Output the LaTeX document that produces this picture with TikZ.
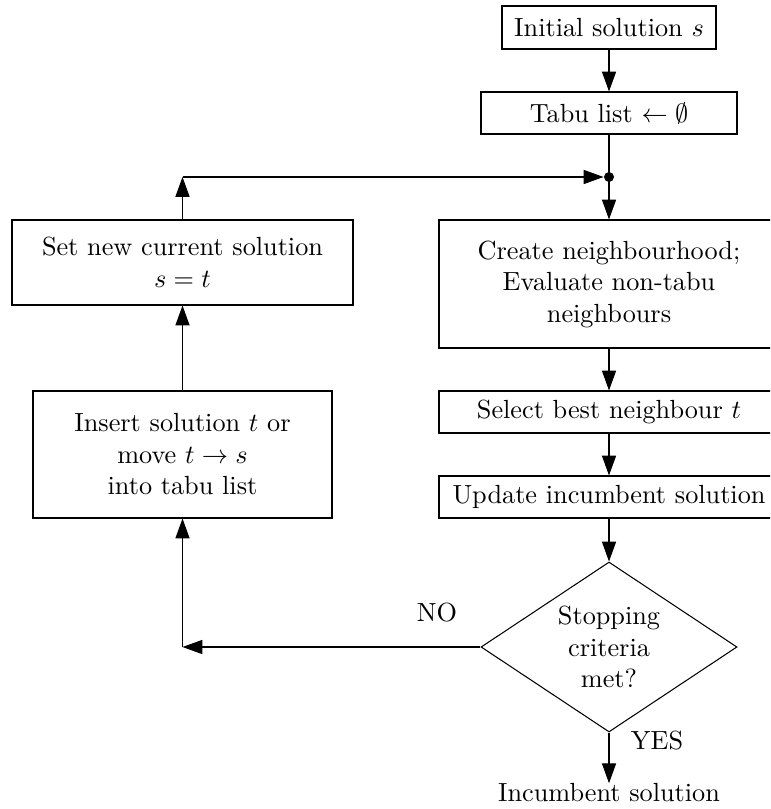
\documentclass[tikz,border=0pt]{standalone}
\usetikzlibrary{shapes.geometric,arrows.meta}
\def\pxu{0.381pt}
\tikzset{
  box/.style={draw, rectangle, align=center, inner sep=0pt},
  dec/.style={draw, diamond, align=center, inner sep=0pt, aspect=1.5,
    minimum width={256*\pxu}, minimum height={170*\pxu}},
  arr/.style={-{Triangle[length=7.6pt,width=5.4pt]}},
  lbl/.style={inner sep=0pt}
}
\begin{document}
\begin{tikzpicture}[x=0.381pt, y=-0.381pt]
\useasboundingbox (0,0) rectangle (770,809);
\clip (0,0) rectangle (770,809);
\node[box, minimum width={214*\pxu}, minimum height={43*\pxu}] (init) at (609,27.5) {Initial solution $s$};
\node[box, minimum width={256*\pxu}, minimum height={42*\pxu}] (tabu) at (609,113) {Tabu list $\leftarrow\emptyset$};
\node[circle, fill, inner sep=0pt, minimum size={10*\pxu}] (junc) at (609,177) {};
\node[box, minimum width={340*\pxu}, minimum height={128*\pxu}] (create) at (609,284) {Create neighbourhood;\\Evaluate non-tabu\\neighbours};
\node[box, minimum width={340*\pxu}, minimum height={42*\pxu}] (select) at (609,412) {Select best neighbour $t$};
\node[box, minimum width={340*\pxu}, minimum height={42*\pxu}] (update) at (609,497) {Update incumbent solution};
\node[dec] (stop) at (609,647) {Stopping\\criteria\\met?};
\node[lbl] (inc) at (609,793) {Incumbent solution};
\node[box, minimum width={341*\pxu}, minimum height={85*\pxu}] (set) at (182.5,262.5) {Set new current solution\\$s=t$};
\node[box, minimum width={299*\pxu}, minimum height={127*\pxu}] (insert) at (182.5,454.5) {Insert solution $t$ or\\move $t\rightarrow s$\\into tabu list};
\coordinate (c1) at (182.5,177);
\coordinate (c2) at (182.5,647);
\node[lbl] (no) at (437,613) {NO};
\node[lbl] (yes) at (657,741) {YES};

\draw[arr] (init) -- (tabu);
\draw (tabu) -- (junc.center);
\draw[arr] (junc.center) -- (create);
\draw[arr] (create) -- (select);
\draw[arr] (select) -- (update);
\draw[arr] (update) -- (stop);
\draw[arr] (stop) -- (inc);
\draw[arr] (stop.west) -- (c2);
\draw[arr] (c2) -- (insert.south);
\draw[arr] (insert) -- (set);
\draw[arr] (set.north) -- (c1);
\draw[arr] (c1) -- (junc);
\end{tikzpicture}
\end{document}
